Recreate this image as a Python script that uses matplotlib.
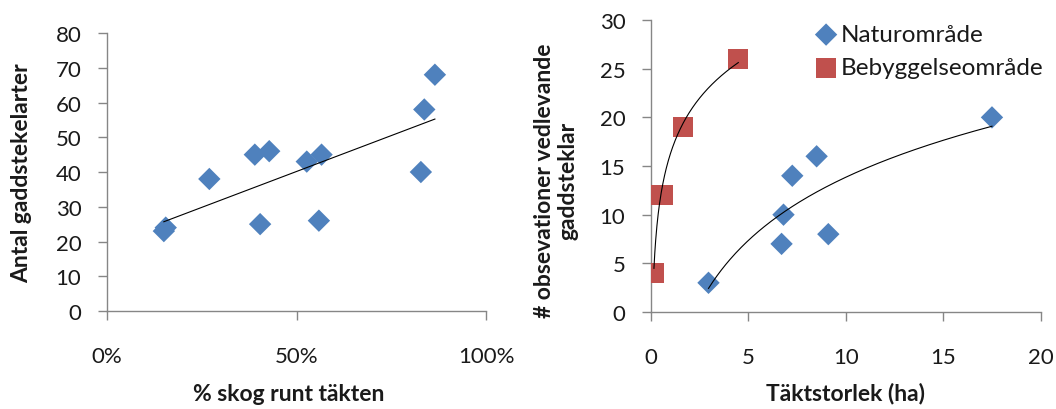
import numpy as np
import matplotlib
matplotlib.use("Agg")
import matplotlib.pyplot as plt
from matplotlib.ticker import FuncFormatter

plt.rcParams['font.family'] = ['Lato', 'DejaVu Sans']

# ---- data: left panel (forest share vs species) ----
skog_andel = [0.15, 0.155, 0.27, 0.39, 0.428, 0.404, 0.527, 0.566, 0.559, 0.828, 0.837, 0.865]
antal_arter = [23, 24, 38, 45, 46, 25, 43, 45, 26, 40, 58, 68]

# ---- data: right panel (pit size vs observations) ----
natur_ha = [2.95, 6.8, 6.7, 7.25, 8.5, 9.1, 17.5]
natur_obs = [3, 10, 7, 14, 16, 8, 20]
bebygg_ha = [0.15, 0.37, 0.62, 1.66, 4.48]
bebygg_obs = [4, 12, 12, 19, 26]

BLUE = '#4F81BD'
RED = '#C0504D'
AXIS_GREY = '#868686'
TXT = '#1a1a1a'
TICK_FS = 16
LABEL_FS = 16.5


def style_axis(ax):
    for s in ['top', 'right']:
        ax.spines[s].set_visible(False)
    for s in ['left', 'bottom']:
        ax.spines[s].set_color(AXIS_GREY)
        ax.spines[s].set_linewidth(1.0)
    ax.tick_params(axis='both', direction='out', length=6.5, width=1.0,
                   color=AXIS_GREY, labelsize=TICK_FS, labelcolor=TXT)
    ax.tick_params(axis='x', pad=19)
    ax.tick_params(axis='y', pad=12)


fig = plt.figure(figsize=(10.56, 4.10), dpi=100)

# --- left panel ---
ax1 = fig.add_axes([0.1013, 0.239, 0.359, 0.678])
ax1.scatter(skog_andel, antal_arter, marker='D', s=130, color=BLUE,
            edgecolors='none', zorder=3)
k, m = np.polyfit(skog_andel, antal_arter, 1)
xl = np.array([min(skog_andel), max(skog_andel)])
ax1.plot(xl, k * xl + m, color='black', lw=0.8, zorder=4)
ax1.set_xlim(0, 1)
ax1.set_ylim(0, 80)
ax1.set_xticks([0, 0.5, 1.0])
ax1.set_yticks(np.arange(0, 81, 10))
ax1.xaxis.set_major_formatter(FuncFormatter(lambda v, p: f"{v * 100:.0f}%"))
style_axis(ax1)
ax1.set_xlabel('% skog runt täkten', fontsize=LABEL_FS, fontweight='bold',
               color=TXT, va='center')
ax1.xaxis.set_label_coords(0.48, -0.295)
ax1.set_ylabel('Antal gaddstekelarter', fontsize=LABEL_FS, fontweight='bold',
               color=TXT, va='center')
ax1.yaxis.set_label_coords(-0.224, 0.5)

# --- right panel ---
ax2 = fig.add_axes([0.6165, 0.2366, 0.369, 0.712])
ax2.scatter(natur_ha, natur_obs, marker='D', s=130, color=BLUE,
            edgecolors='none', zorder=3, label='Naturområde')
ax2.scatter(bebygg_ha, bebygg_obs, marker='s', s=210, color=RED,
            edgecolors='none', zorder=3, label='Bebyggelseområde')

# logaritmiska trendlinjer
for xs, ys in [(natur_ha, natur_obs), (bebygg_ha, bebygg_obs)]:
    a, b = np.polyfit(np.log(xs), ys, 1)
    xc = np.linspace(min(xs), max(xs), 200)
    ax2.plot(xc, a * np.log(xc) + b, color='black', lw=0.8, zorder=4)

ax2.set_xlim(0, 20)
ax2.set_ylim(0, 30)
ax2.set_xticks(np.arange(0, 21, 5))
ax2.set_yticks(np.arange(0, 31, 5))
style_axis(ax2)
ax2.set_xlabel('Täktstorlek (ha)', fontsize=LABEL_FS, fontweight='bold',
               color=TXT, va='center')
ax2.xaxis.set_label_coords(0.5, -0.277)
ax2.set_ylabel('# obsevationer vedlevande\ngaddsteklar', fontsize=LABEL_FS,
               fontweight='bold', color=TXT, linespacing=1.15, va='center',
               ha='center')
ax2.yaxis.set_label_coords(-0.244, 0.452)

leg = ax2.legend(loc='upper left', bbox_to_anchor=(0.39, 1.02), frameon=False,
                 fontsize=17.5, handletextpad=0.05, labelspacing=0.5,
                 handlelength=1.1, borderaxespad=0)
for t in leg.get_texts():
    t.set_color(TXT)

fig.savefig('out.png', dpi=100)
